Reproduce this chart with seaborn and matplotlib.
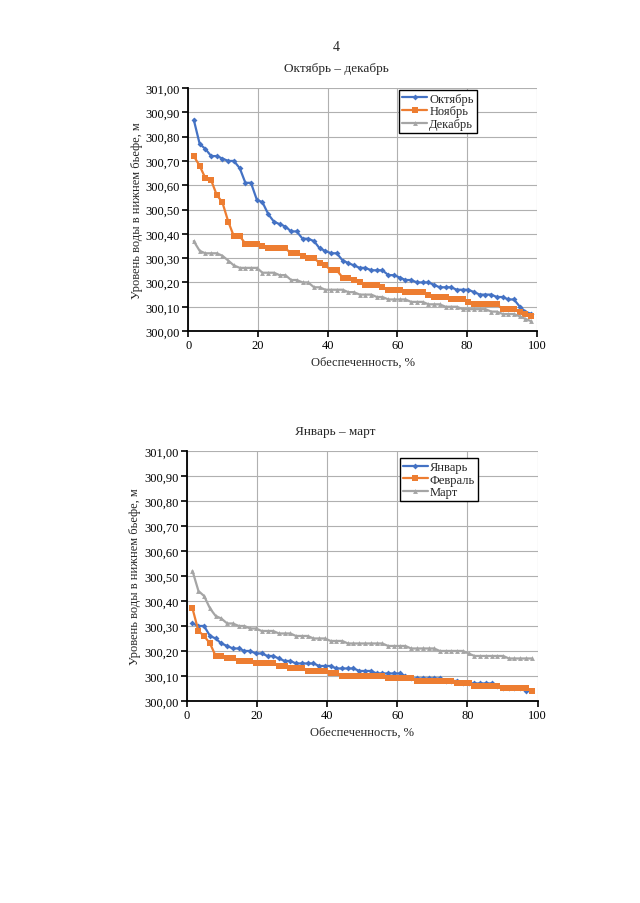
import numpy as np
import pandas as pd
import seaborn as sns
import matplotlib.pyplot as plt
from matplotlib.ticker import FuncFormatter, MultipleLocator

# Обеспеченность, %
prob = [1.6, 3.3, 4.9, 6.6, 8.2, 9.8, 11.5, 13.1, 14.8, 16.4,
        18.0, 19.7, 21.3, 23.0, 24.6, 26.2, 27.9, 29.5, 31.1, 32.8,
        34.4, 36.1, 37.7, 39.3, 41.0, 42.6, 44.3, 45.9, 47.5, 49.2,
        50.8, 52.5, 54.1, 55.7, 57.4, 59.0, 60.7, 62.3, 63.9, 65.6,
        67.2, 68.9, 70.5, 72.1, 73.8, 75.4, 77.0, 78.7, 80.3, 82.0,
        83.6, 85.2, 86.9, 88.5, 90.2, 91.8, 93.4, 95.1, 96.7, 98.4]

october = [300.87, 300.77, 300.75, 300.72, 300.72, 300.71, 300.70, 300.70, 300.67, 300.61,
           300.61, 300.54, 300.53, 300.48, 300.45, 300.44, 300.43, 300.41, 300.41, 300.38,
           300.38, 300.37, 300.34, 300.33, 300.32, 300.32, 300.29, 300.28, 300.27, 300.26,
           300.26, 300.25, 300.25, 300.25, 300.23, 300.23, 300.22, 300.21, 300.21, 300.20,
           300.20, 300.20, 300.19, 300.18, 300.18, 300.18, 300.17, 300.17, 300.17, 300.16,
           300.15, 300.15, 300.15, 300.14, 300.14, 300.13, 300.13, 300.10, 300.08, 300.07]
november = [300.72, 300.68, 300.63, 300.62, 300.56, 300.53, 300.45, 300.39, 300.39, 300.36,
            300.36, 300.36, 300.35, 300.34, 300.34, 300.34, 300.34, 300.32, 300.32, 300.31,
            300.30, 300.30, 300.28, 300.27, 300.25, 300.25, 300.22, 300.22, 300.21, 300.20,
            300.19, 300.19, 300.19, 300.18, 300.17, 300.17, 300.17, 300.16, 300.16, 300.16,
            300.16, 300.15, 300.14, 300.14, 300.14, 300.13, 300.13, 300.13, 300.12, 300.11,
            300.11, 300.11, 300.11, 300.11, 300.09, 300.09, 300.09, 300.08, 300.07, 300.06]
december = [300.37, 300.33, 300.32, 300.32, 300.32, 300.31, 300.29, 300.27, 300.26, 300.26,
            300.26, 300.26, 300.24, 300.24, 300.24, 300.23, 300.23, 300.21, 300.21, 300.20,
            300.20, 300.18, 300.18, 300.17, 300.17, 300.17, 300.17, 300.16, 300.16, 300.15,
            300.15, 300.15, 300.14, 300.14, 300.13, 300.13, 300.13, 300.13, 300.12, 300.12,
            300.12, 300.11, 300.11, 300.11, 300.10, 300.10, 300.10, 300.09, 300.09, 300.09,
            300.09, 300.09, 300.08, 300.08, 300.07, 300.07, 300.07, 300.06, 300.05, 300.04]

january = [300.31, 300.30, 300.30, 300.26, 300.25, 300.23, 300.22, 300.21, 300.21, 300.20,
           300.20, 300.19, 300.19, 300.18, 300.18, 300.17, 300.16, 300.16, 300.15, 300.15,
           300.15, 300.15, 300.14, 300.14, 300.14, 300.13, 300.13, 300.13, 300.13, 300.12,
           300.12, 300.12, 300.11, 300.11, 300.11, 300.11, 300.11, 300.10, 300.09, 300.09,
           300.09, 300.09, 300.09, 300.09, 300.08, 300.08, 300.08, 300.07, 300.07, 300.07,
           300.07, 300.07, 300.07, 300.06, 300.05, 300.05, 300.05, 300.05, 300.04]
february = [300.37, 300.28, 300.26, 300.23, 300.18, 300.18, 300.17, 300.17, 300.16, 300.16,
            300.16, 300.15, 300.15, 300.15, 300.15, 300.14, 300.14, 300.13, 300.13, 300.13,
            300.12, 300.12, 300.12, 300.12, 300.11, 300.11, 300.10, 300.10, 300.10, 300.10,
            300.10, 300.10, 300.10, 300.10, 300.09, 300.09, 300.09, 300.09, 300.09, 300.08,
            300.08, 300.08, 300.08, 300.08, 300.08, 300.08, 300.07, 300.07, 300.07, 300.06,
            300.06, 300.06, 300.06, 300.06, 300.05, 300.05, 300.05, 300.05, 300.05, 300.04]
march = [300.52, 300.44, 300.42, 300.37, 300.34, 300.33, 300.31, 300.31, 300.30, 300.30,
         300.29, 300.29, 300.28, 300.28, 300.28, 300.27, 300.27, 300.27, 300.26, 300.26,
         300.26, 300.25, 300.25, 300.25, 300.24, 300.24, 300.24, 300.23, 300.23, 300.23,
         300.23, 300.23, 300.23, 300.23, 300.22, 300.22, 300.22, 300.22, 300.21, 300.21,
         300.21, 300.21, 300.21, 300.20, 300.20, 300.20, 300.20, 300.20, 300.19, 300.18,
         300.18, 300.18, 300.18, 300.18, 300.18, 300.17, 300.17, 300.17, 300.17, 300.17]

blue, orange, gray = '#4472C4', '#ED7D31', '#A5A5A5'

sns.set_style('white')
plt.rcParams['font.family'] = ['Liberation Serif', 'DejaVu Serif']

fig = plt.figure(figsize=(6.4, 9.04), dpi=100)
fig.text(0.525, 0.948, '4', ha='center', va='center', fontsize=10)

comma_fmt = FuncFormatter(lambda v, p: f'{v:.2f}'.replace('.', ','))


def draw_panel(rect, title, series, legend_anchor):
    ax = fig.add_axes(rect)
    styles = [('D', 3.0), ('s', 4.5), ('^', 3.5)]
    for (name, vals, color), (mk, ms) in zip(series, styles):
        sns.lineplot(x=prob[:len(vals)], y=vals, ax=ax, color=color, marker=mk,
                     markersize=ms, markeredgewidth=0, linewidth=1.6, label=name)
    ax.set_xlim(0, 100)
    ax.set_ylim(300.0, 301.0)
    ax.xaxis.set_major_locator(MultipleLocator(20))
    ax.yaxis.set_major_locator(MultipleLocator(0.1))
    ax.yaxis.set_major_formatter(comma_fmt)
    ax.grid(True, color='#b0b0b0', linewidth=0.8)
    for s in ['top', 'right']:
        ax.spines[s].set_visible(False)
    for s in ['left', 'bottom']:
        ax.spines[s].set_color('black')
        ax.spines[s].set_linewidth(1.3)
    ax.tick_params(axis='both', direction='out', length=4, width=1.2,
                   labelsize=9, colors='black', left=True, bottom=True, pad=2)
    ax.set_xlabel('Обеспеченность, %', fontsize=9, labelpad=3)
    ax.set_ylabel('Уровень воды в нижнем бьефе, м', fontsize=9, labelpad=2)
    ax.set_title(title, fontsize=9.5, pad=12, x=0.424)
    leg = ax.legend(loc='upper right', bbox_to_anchor=legend_anchor, fontsize=9,
                    frameon=True, fancybox=False, edgecolor='black', framealpha=1,
                    handlelength=2.0, borderpad=0.25, labelspacing=0.05,
                    handletextpad=0.15, borderaxespad=0)
    leg.get_frame().set_linewidth(1.0)
    return ax


draw_panel([0.294, 0.6327, 0.545, 0.2688], 'Октябрь – декабрь',
           [('Октябрь', october, blue), ('Ноябрь', november, orange),
            ('Декабрь', december, gray)], (0.828, 0.993))
draw_panel([0.292, 0.2235, 0.548, 0.2765], 'Январь – март',
           [('Январь', january, blue), ('Февраль', february, orange),
            ('Март', march, gray)], (0.83, 0.972))

fig.savefig('out.png', dpi=100, facecolor='white')
